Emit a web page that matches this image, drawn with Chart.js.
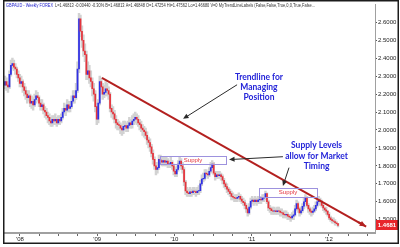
<!DOCTYPE html>
<html>
<head>
<meta charset="utf-8">
<script src="https://cdn.jsdelivr.net/npm/chart.js@4.4.1/dist/chart.umd.min.js"></script>
<style>
html, body { margin: 0; padding: 0; background: #fff; }
</style>
</head>
<body>
<canvas id="gbpaud" width="400" height="247"></canvas>
<script>
// GBPAUD weekly, week 0 = late Oct 2007, last week = Feb 2012
var closes = [
  2.27, 2.25, 2.24, 2.31, 2.36, 2.37, 2.35, 2.34, 2.31, 2.29,
  2.26, 2.27, 2.24, 2.22, 2.20, 2.18, 2.19, 2.15, 2.16, 2.14,
  2.17, 2.19, 2.18, 2.15, 2.13, 2.14, 2.11, 2.10, 2.08, 2.07,
  2.05, 2.04, 2.06, 2.05, 2.06, 2.04, 2.06, 2.05, 2.07, 2.10,
  2.12, 2.11, 2.14, 2.12, 2.13, 2.16, 2.19, 2.18, 2.22, 2.34,
  2.62, 2.55, 2.50, 2.44, 2.42, 2.31, 2.33, 2.29, 2.27, 2.23,
  2.20, 2.13, 2.06, 2.15, 2.27, 2.24, 2.20, 2.21, 2.23, 2.22,
  2.20, 2.12, 2.10, 2.09, 2.06, 2.04, 2.03, 2.025, 2.01, 2.00,
  2.02, 2.025, 2.01, 2.025, 2.04, 2.03, 2.05, 2.06, 2.07, 2.06,
  2.04, 2.03, 2.01, 2.00, 1.99, 1.97, 1.944, 1.93, 1.906, 1.87,
  1.836, 1.80, 1.78, 1.79, 1.836, 1.83, 1.82, 1.83, 1.82, 1.826,
  1.81, 1.812, 1.82, 1.80, 1.77, 1.755, 1.78, 1.81, 1.826, 1.80,
  1.78, 1.71, 1.66, 1.65, 1.645, 1.655, 1.65, 1.66, 1.657, 1.65,
  1.66, 1.662, 1.70, 1.727, 1.73, 1.76, 1.755, 1.75, 1.77, 1.79,
  1.81, 1.76, 1.74, 1.75, 1.745, 1.75, 1.74, 1.72, 1.70, 1.684,
  1.67, 1.657, 1.645, 1.63, 1.625, 1.62, 1.619, 1.625, 1.63, 1.615,
  1.603, 1.595, 1.58, 1.56, 1.538, 1.57, 1.603, 1.61, 1.60, 1.61,
  1.60, 1.61, 1.615, 1.61, 1.62, 1.625, 1.645, 1.60, 1.565, 1.56,
  1.55, 1.548, 1.55, 1.545, 1.55, 1.548, 1.54, 1.538, 1.53, 1.527,
  1.53, 1.52, 1.515, 1.51, 1.52, 1.527, 1.56, 1.59, 1.56, 1.538,
  1.55, 1.575, 1.60, 1.625, 1.58, 1.56, 1.548, 1.54, 1.548, 1.56,
  1.58, 1.60, 1.61, 1.603, 1.58, 1.565, 1.555, 1.548, 1.53, 1.51,
  1.50, 1.494, 1.49, 1.483, 1.478, 1.468
];
var highs = [
  2.30, 2.29, 2.27, 2.33, 2.39, 2.40, 2.39, 2.37, 2.35, 2.33,
  2.31, 2.30, 2.28, 2.26, 2.24, 2.22, 2.22, 2.20, 2.19, 2.18,
  2.20, 2.22, 2.21, 2.19, 2.17, 2.17, 2.15, 2.13, 2.12, 2.10,
  2.09, 2.07, 2.08, 2.08, 2.09, 2.07, 2.08, 2.08, 2.09, 2.12,
  2.15, 2.14, 2.17, 2.16, 2.16, 2.19, 2.22, 2.22, 2.26, 2.38,
  2.65, 2.64, 2.58, 2.53, 2.48, 2.44, 2.38, 2.36, 2.33, 2.29,
  2.26, 2.22, 2.15, 2.17, 2.30, 2.29, 2.26, 2.25, 2.27, 2.26,
  2.24, 2.21, 2.14, 2.13, 2.11, 2.08, 2.06, 2.05, 2.04, 2.03,
  2.05, 2.05, 2.04, 2.05, 2.07, 2.06, 2.08, 2.09, 2.10, 2.09,
  2.08, 2.06, 2.05, 2.03, 2.02, 2.01, 1.99, 1.96, 1.95, 1.92,
  1.89, 1.85, 1.82, 1.82, 1.86, 1.86, 1.85, 1.85, 1.85, 1.85,
  1.84, 1.83, 1.85, 1.83, 1.81, 1.79, 1.80, 1.83, 1.85, 1.84,
  1.82, 1.79, 1.72, 1.68, 1.67, 1.68, 1.67, 1.68, 1.68, 1.67,
  1.68, 1.69, 1.72, 1.75, 1.76, 1.78, 1.78, 1.77, 1.79, 1.82,
  1.83, 1.82, 1.77, 1.77, 1.77, 1.77, 1.76, 1.75, 1.73, 1.71,
  1.70, 1.68, 1.67, 1.66, 1.65, 1.64, 1.64, 1.64, 1.65, 1.64,
  1.63, 1.62, 1.61, 1.59, 1.57, 1.59, 1.62, 1.63, 1.62, 1.63,
  1.62, 1.63, 1.63, 1.63, 1.64, 1.64, 1.66, 1.65, 1.61, 1.58,
  1.57, 1.57, 1.57, 1.56, 1.57, 1.57, 1.56, 1.56, 1.55, 1.55,
  1.55, 1.54, 1.53, 1.53, 1.54, 1.55, 1.58, 1.61, 1.60, 1.57,
  1.57, 1.59, 1.62, 1.64, 1.63, 1.59, 1.57, 1.56, 1.57, 1.58,
  1.60, 1.62, 1.63, 1.62, 1.61, 1.59, 1.57, 1.57, 1.55, 1.54,
  1.52, 1.51, 1.51, 1.50, 1.49, 1.48
];
var lows = [
  2.23, 2.22, 2.21, 2.23, 2.30, 2.34, 2.33, 2.31, 2.29, 2.27,
  2.24, 2.24, 2.21, 2.19, 2.17, 2.15, 2.16, 2.13, 2.12, 2.11,
  2.13, 2.15, 2.16, 2.13, 2.11, 2.11, 2.09, 2.07, 2.06, 2.04,
  2.03, 2.02, 2.02, 2.03, 2.03, 2.02, 2.03, 2.03, 2.04, 2.06,
  2.09, 2.08, 2.10, 2.10, 2.10, 2.12, 2.15, 2.15, 2.17, 2.21,
  2.32, 2.52, 2.46, 2.41, 2.38, 2.28, 2.28, 2.26, 2.24, 2.19,
  2.16, 2.10, 2.03, 2.04, 2.14, 2.20, 2.17, 2.18, 2.19, 2.19,
  2.17, 2.10, 2.07, 2.06, 2.04, 2.01, 2.00, 2.00, 1.98, 1.97,
  1.98, 2.00, 1.99, 1.99, 2.01, 2.01, 2.01, 2.03, 2.04, 2.03,
  2.02, 2.00, 1.99, 1.97, 1.96, 1.95, 1.92, 1.90, 1.88, 1.85,
  1.81, 1.78, 1.75, 1.76, 1.78, 1.81, 1.80, 1.80, 1.80, 1.80,
  1.79, 1.79, 1.79, 1.78, 1.75, 1.74, 1.74, 1.77, 1.79, 1.78,
  1.76, 1.69, 1.64, 1.63, 1.63, 1.63, 1.63, 1.64, 1.64, 1.63,
  1.64, 1.64, 1.65, 1.69, 1.71, 1.72, 1.74, 1.73, 1.74, 1.76,
  1.78, 1.75, 1.72, 1.73, 1.73, 1.73, 1.72, 1.70, 1.68, 1.67,
  1.65, 1.64, 1.63, 1.61, 1.61, 1.60, 1.60, 1.60, 1.61, 1.60,
  1.59, 1.58, 1.56, 1.54, 1.52, 1.53, 1.56, 1.59, 1.58, 1.59,
  1.58, 1.59, 1.59, 1.59, 1.60, 1.60, 1.61, 1.59, 1.55, 1.54,
  1.53, 1.53, 1.53, 1.53, 1.53, 1.53, 1.52, 1.52, 1.51, 1.51,
  1.51, 1.50, 1.50, 1.49, 1.50, 1.50, 1.52, 1.55, 1.54, 1.52,
  1.53, 1.54, 1.56, 1.59, 1.57, 1.54, 1.53, 1.52, 1.53, 1.54,
  1.55, 1.57, 1.59, 1.58, 1.57, 1.55, 1.54, 1.53, 1.52, 1.50,
  1.49, 1.48, 1.48, 1.47, 1.47, 1.46
];
var firstOpen = 2.25;
var lastPriceLabel = "1.4681";

var yearLabels = ["'08", "'09", "'10", "'11", "'12"];
var firstYearWeek = 10.1;      // week index of 1 Jan 2008
var weeksPerQuarter = 13.045;
var priceTicks = [1.5, 1.6, 1.7, 1.8, 1.9, 2.0, 2.1, 2.2, 2.3, 2.4, 2.5, 2.6];

// annotations, in week / price units
var trendWeeks = [65.5, 244];
var trendPrices = [2.291, 1.462];
var supplyWeeks = [[104.7, 149.3], [171.6, 210.8]];
var supplyPrices = [[1.854, 1.809], [1.677, 1.629]];

var titleHead = "GBPAUD - Weekly FOREX";
var titleRest = "L=1.46813 -0.00440 -0.30% B=1.46813 A=1.46848 O=1.47254 Hi=1.47562 Lo=1.46680 V=0 MyTrendLineLabels (False,False,True,0,0,True,False...";

var opens = closes.map(function(c, i) { return i === 0 ? firstOpen : closes[i - 1]; });
var rangeData = closes.map(function(c, i) { return { x: i, y: [lows[i], highs[i]] }; });
var bodyData = closes.map(function(c, i) { return { x: i, y: [opens[i], c] }; });
var bodyColors = closes.map(function(c, i) { return c >= opens[i] ? '#3030e4' : '#e5343c'; });
var trendData = trendWeeks.map(function(w, i) { return { x: w, y: trendPrices[i] }; });

var quarterTicks = [];
for (var k = 0; k <= 18; k++) quarterTicks.push({ value: firstYearWeek + k * weeksPerQuarter });

function arrow(ctx, x1, y1, x2, y2, color, width, head) {
    var a = Math.atan2(y2 - y1, x2 - x1);
    ctx.strokeStyle = color;
    ctx.lineWidth = width;
    ctx.beginPath();
    ctx.moveTo(x1, y1);
    ctx.lineTo(x2 - Math.cos(a) * head * 0.6, y2 - Math.sin(a) * head * 0.6);
    ctx.stroke();
    ctx.fillStyle = color;
    ctx.beginPath();
    ctx.moveTo(x2, y2);
    ctx.lineTo(x2 - head * Math.cos(a - 0.42), y2 - head * Math.sin(a - 0.42));
    ctx.lineTo(x2 - head * Math.cos(a + 0.42), y2 - head * Math.sin(a + 0.42));
    ctx.closePath();
    ctx.fill();
}

var notes = {
    id: 'notes',
    afterDatasetsDraw: function(chart) {
        var ctx = chart.ctx, xs = chart.scales.x, ys = chart.scales.y;
        ctx.save();

        // trendline arrowhead
        var tx1 = xs.getPixelForValue(trendWeeks[0]), ty1 = ys.getPixelForValue(trendPrices[0]);
        var tx2 = xs.getPixelForValue(trendWeeks[1]), ty2 = ys.getPixelForValue(trendPrices[1]);
        arrow(ctx, tx2 - (tx2 - tx1) * 0.03, ty2 - (ty2 - ty1) * 0.03, tx2, ty2, '#b3201f', 2, 7);

        // supply boxes
        supplyWeeks.forEach(function(w, i) {
            var x1 = xs.getPixelForValue(w[0]), x2 = xs.getPixelForValue(w[1]);
            var y1 = ys.getPixelForValue(supplyPrices[i][0]), y2 = ys.getPixelForValue(supplyPrices[i][1]);
            ctx.strokeStyle = '#9d92de';
            ctx.lineWidth = 1;
            ctx.strokeRect(Math.round(x1) + 0.5, Math.round(y1) + 0.5, Math.round(x2 - x1), Math.round(y2 - y1));
            ctx.fillStyle = '#e3313a';
            ctx.font = '6px "Liberation Sans", Arial';
            ctx.textAlign = 'center';
            ctx.textBaseline = 'middle';
            ctx.fillText('Supply', x1 + (x2 - x1) * 0.5, (y1 + y2) / 2 + 0.5);
        });

        // callout texts
        ctx.fillStyle = '#2424d8';
        ctx.font = 'bold 8.5px Lato, "Open Sans", sans-serif';
        ctx.textAlign = 'center';
        ctx.textBaseline = 'middle';
        var tcx = xs.getPixelForValue(171.6);
        ['Trendline for', 'Managing', 'Position'].forEach(function(t, i) {
            ctx.fillText(t, tcx, ys.getPixelForValue([2.291, 2.236, 2.182][i]));
        });
        var scx = xs.getPixelForValue(210.5);
        ['Supply Levels', 'allow for Market', 'Timing'].forEach(function(t, i) {
            ctx.fillText(t, scx, ys.getPixelForValue([1.916, 1.851, 1.796][i]));
        });

        // black arrows
        var px = function(w) { return xs.getPixelForValue(w); };
        var py = function(p) { return ys.getPixelForValue(p); };
        arrow(ctx, px(156.8), py(2.252), px(120.3), py(2.062), '#2a2a2a', 1, 6);
        arrow(ctx, px(187.8), py(1.851), px(151.4), py(1.835), '#2a2a2a', 1, 6);
        arrow(ctx, px(191.9), py(1.790), px(187.8), py(1.688), '#2a2a2a', 1, 6);

        // header text
        ctx.textAlign = 'left';
        ctx.textBaseline = 'middle';
        ctx.font = '4.5px "Liberation Sans", Arial';
        ctx.fillStyle = '#2222cc';
        ctx.fillText(titleHead, 6, 5.5, 47);
        ctx.fillStyle = '#333';
        ctx.fillText(titleRest, 55, 5.5, 260);
        ctx.restore();
    },
    afterDraw: function(chart) {
        var ctx = chart.ctx, ys = chart.scales.y, ca = chart.chartArea;
        ctx.save();
        // last price box
        var y = ys.getPixelForValue(closes[closes.length - 1]);
        ctx.fillStyle = '#e8252b';
        ctx.fillRect(ca.right + 1, Math.round(y) - 5, 22, 10);
        ctx.fillStyle = '#fff';
        ctx.font = 'bold 6px "Liberation Sans", Arial';
        ctx.textAlign = 'center';
        ctx.textBaseline = 'middle';
        ctx.fillText(lastPriceLabel, ca.right + 12, Math.round(y) + 0.5);
        // frame
        ctx.strokeStyle = '#1c1c1c';
        ctx.lineWidth = 1.5;
        ctx.strokeRect(3.75, 0.75, 394.5, 242.5);
        ctx.restore();
    }
};

var chart = new Chart(document.getElementById('gbpaud'), {
    type: 'bar',
    data: {
        datasets: [
            { type: 'line', data: trendData, borderColor: '#b3201f', borderWidth: 2, pointRadius: 0, order: 0 },
            { data: bodyData, backgroundColor: bodyColors, barThickness: 1.1, grouped: false, order: 1 },
            { data: rangeData, backgroundColor: '#d2d2d2', barThickness: 1.8, grouped: false, order: 2 }
        ]
    },
    options: {
        responsive: false,
        animation: false,
        devicePixelRatio: 1,
        layout: { padding: { left: 4, top: 1, right: 2, bottom: 4 } },
        plugins: { legend: { display: false }, tooltip: { enabled: false } },
        scales: {
            x: {
                type: 'linear',
                min: -0.68,
                max: 250,
                offset: false,
                border: { color: '#a0a0a0', width: 2 },
                grid: { offset: false, drawOnChartArea: false, tickLength: 3, color: '#666' },
                ticks: {
                    autoSkip: false,
                    maxRotation: 0,
                    padding: 0,
                    color: '#222',
                    font: { family: '"Liberation Sans", Arial', size: 6 },
                    callback: function(v, idx) { return idx % 4 === 0 ? yearLabels[idx / 4] : ''; }
                },
                afterBuildTicks: function(s) { s.ticks = quarterTicks.slice(); },
                afterFit: function(s) { s.height = 10; }
            },
            y: {
                position: 'right',
                min: 1.4259,
                max: 2.6987,
                border: { color: '#a0a0a0', width: 1 },
                grid: { drawOnChartArea: false, tickLength: 2, color: '#555' },
                ticks: {
                    padding: 1,
                    color: '#222',
                    font: { family: '"Liberation Sans", Arial', size: 6 },
                    callback: function(v) { return Number(v).toFixed(4); }
                },
                afterBuildTicks: function(s) { s.ticks = priceTicks.map(function(p) { return { value: p }; }); },
                afterFit: function(s) { s.width = 23; }
            }
        }
    },
    plugins: [notes]
});
</script>
</body>
</html>
